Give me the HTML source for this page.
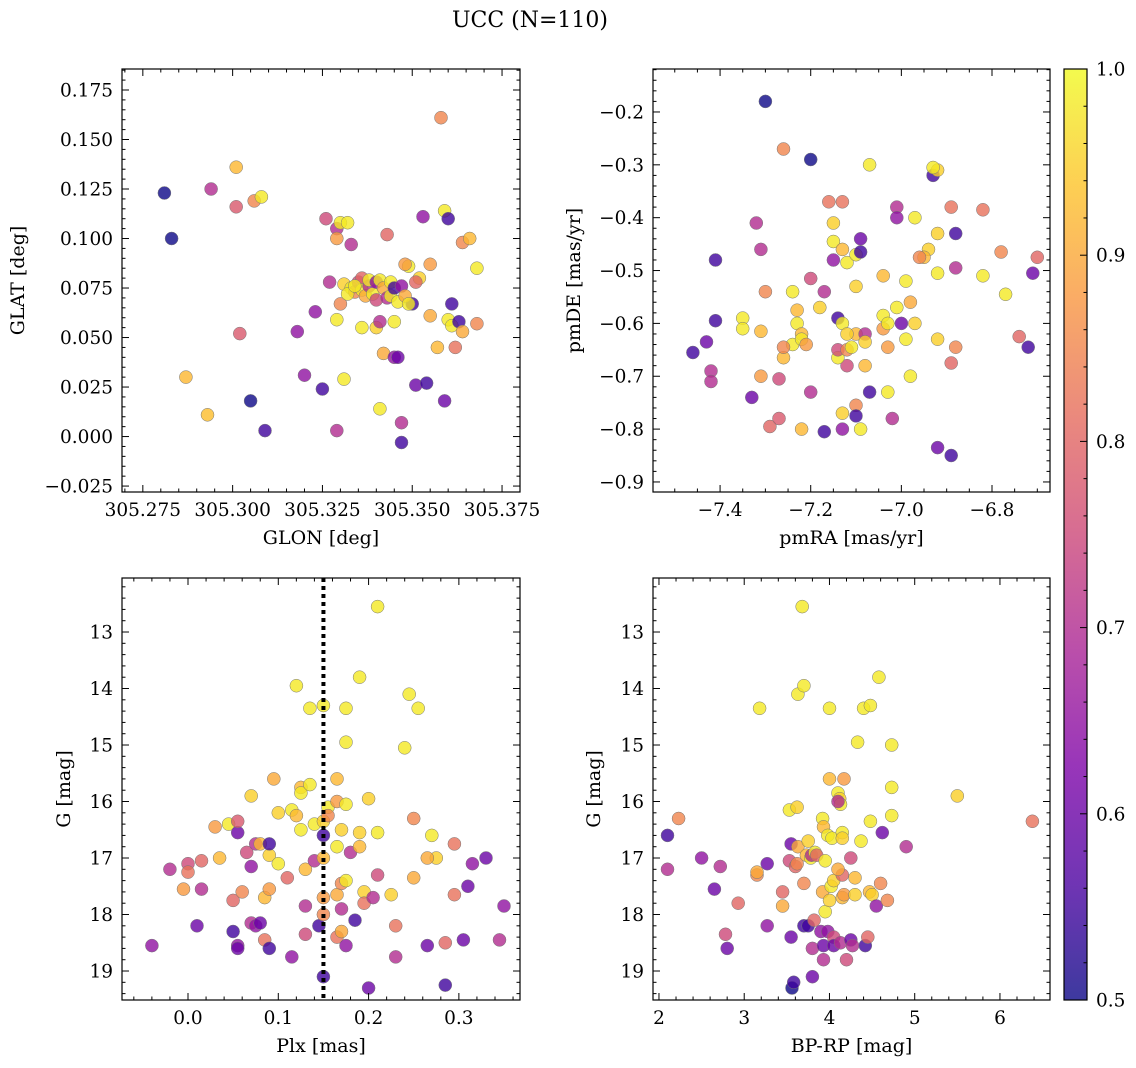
<!DOCTYPE html>
<html><head><meta charset="utf-8"><style>
body{margin:0;background:#fff;}
svg{display:block;font-family:"DejaVu Serif","Liberation Serif",serif;}
</style></head><body>
<svg id="fig" width="1136" height="1068" viewBox="0 0 1136 1068">
<defs><linearGradient id="cbg" x1="0" y1="1" x2="0" y2="0">
<stop offset="0" stop-color="#0d0887"/><stop offset="0.125" stop-color="#4c02a1"/><stop offset="0.25" stop-color="#7e03a8"/><stop offset="0.375" stop-color="#a92395"/><stop offset="0.5" stop-color="#cc4778"/><stop offset="0.625" stop-color="#e56b5d"/><stop offset="0.75" stop-color="#f89540"/><stop offset="0.875" stop-color="#fdc328"/><stop offset="1" stop-color="#f0f921"/></linearGradient></defs>
<text x="530" y="27" text-anchor="middle" font-size="22">UCC (N=110)</text>
</svg>
<script>
// Panel 1: GLON / GLAT
const glon1=[305.281,305.283,305.294,305.301,305.301,305.306,305.308,305.302,305.287,305.293,305.305,305.309,305.318,305.320,305.323,305.325,305.326,305.329,305.329,305.330,305.332,305.333,305.327,305.329,305.330,305.331,305.329,305.336,305.340,305.341,305.342,305.341,305.343,305.345,305.346,305.345,305.347,305.347,305.349,305.348,305.350,305.351,305.352,305.353,305.354,305.355,305.355,305.357,305.358,305.359,305.359,305.360,305.360,305.361,305.361,305.362,305.363,305.364,305.364,305.366,305.368,305.368,305.331,305.333,305.334,305.335,305.336,305.336,305.337,305.338,305.338,305.339,305.340,305.340,305.341,305.342,305.343,305.344,305.344,305.345,305.346,305.347,305.348,305.349,305.351,305.332,305.334];
const glat1=[0.123,0.100,0.125,0.136,0.116,0.119,0.121,0.052,0.030,0.011,0.018,0.003,0.053,0.031,0.063,0.024,0.110,0.105,0.100,0.108,0.108,0.097,0.078,0.059,0.067,0.029,0.003,0.055,0.055,0.058,0.042,0.014,0.102,0.040,0.040,0.058,0.007,-0.003,0.086,0.087,0.067,0.026,0.080,0.111,0.027,0.087,0.061,0.045,0.161,0.018,0.114,0.110,0.059,0.056,0.067,0.045,0.058,0.098,0.053,0.100,0.085,0.057,0.077,0.075,0.073,0.078,0.080,0.074,0.071,0.076,0.079,0.072,0.069,0.078,0.079,0.075,0.070,0.078,0.071,0.075,0.068,0.076,0.071,0.067,0.078,0.072,0.076];
const prob1=[0.5,0.5,0.7,0.92,0.78,0.85,0.98,0.78,0.92,0.93,0.5,0.55,0.65,0.65,0.65,0.55,0.75,0.7,0.88,0.98,0.98,0.7,0.7,0.98,0.85,0.98,0.7,0.98,0.95,0.7,0.9,0.98,0.8,0.65,0.6,0.98,0.7,0.55,0.98,0.88,0.55,0.6,0.95,0.65,0.55,0.88,0.9,0.92,0.85,0.6,0.98,0.55,0.98,0.98,0.55,0.82,0.55,0.85,0.9,0.92,0.98,0.85,0.95,0.98,0.85,0.75,0.8,0.98,0.9,0.7,0.98,0.98,0.75,0.65,0.98,0.9,0.7,0.98,0.98,0.55,0.98,0.65,0.9,0.98,0.8,0.98,0.98];
// Panel 2: pmRA / pmDE
const pmra2=[-7.30,-7.26,-7.20,-7.07,-6.93,-6.92,-6.93,-7.32,-7.31,-7.41,-7.16,-7.13,-7.15,-7.15,-7.13,-7.12,-7.15,-7.10,-7.09,-7.09,-7.01,-7.01,-6.97,-6.92,-6.88,-6.89,-6.82,-6.94,-6.95,-6.96,-6.88,-6.92,-6.82,-6.78,-6.70,-6.71,-6.77,-6.74,-6.72,-7.17,-7.20,-7.18,-7.24,-7.30,-7.35,-7.35,-7.31,-7.23,-7.23,-7.24,-7.22,-7.22,-7.26,-7.26,-7.21,-7.27,-7.31,-7.29,-7.27,-7.33,-7.20,-7.22,-7.17,-7.13,-7.09,-7.13,-7.10,-7.10,-7.07,-7.03,-7.08,-7.12,-7.14,-7.14,-7.12,-7.11,-7.14,-7.13,-7.10,-7.08,-7.08,-7.12,-7.04,-7.04,-7.03,-7.00,-7.01,-7.04,-6.98,-6.99,-6.97,-6.99,-7.03,-6.98,-6.92,-6.89,-6.88,-7.02,-6.92,-6.89,-7.46,-7.43,-7.42,-7.42,-7.41,-7.10];
const pmde2=[-0.18,-0.27,-0.29,-0.30,-0.32,-0.31,-0.305,-0.41,-0.46,-0.48,-0.37,-0.37,-0.41,-0.445,-0.46,-0.485,-0.48,-0.47,-0.44,-0.465,-0.38,-0.40,-0.40,-0.43,-0.43,-0.38,-0.385,-0.46,-0.475,-0.475,-0.495,-0.505,-0.51,-0.465,-0.475,-0.505,-0.545,-0.625,-0.645,-0.54,-0.515,-0.57,-0.54,-0.54,-0.59,-0.61,-0.615,-0.575,-0.60,-0.64,-0.62,-0.63,-0.665,-0.645,-0.64,-0.705,-0.70,-0.795,-0.78,-0.74,-0.73,-0.80,-0.805,-0.80,-0.80,-0.77,-0.755,-0.775,-0.73,-0.73,-0.68,-0.68,-0.665,-0.65,-0.65,-0.645,-0.59,-0.60,-0.62,-0.62,-0.635,-0.62,-0.61,-0.585,-0.60,-0.60,-0.57,-0.51,-0.56,-0.52,-0.60,-0.63,-0.645,-0.70,-0.63,-0.675,-0.645,-0.78,-0.835,-0.85,-0.655,-0.635,-0.69,-0.71,-0.595,-0.53];
const prob2=[0.5,0.85,0.5,0.98,0.55,0.95,0.98,0.7,0.7,0.55,0.82,0.82,0.95,0.98,0.92,0.98,0.65,0.98,0.6,0.55,0.7,0.65,0.98,0.95,0.55,0.82,0.82,0.95,0.92,0.85,0.7,0.98,0.98,0.85,0.8,0.6,0.98,0.8,0.55,0.7,0.75,0.95,0.98,0.85,0.98,0.98,0.92,0.92,0.98,0.98,0.92,0.98,0.92,0.85,0.88,0.75,0.88,0.8,0.78,0.6,0.7,0.92,0.55,0.65,0.98,0.95,0.85,0.55,0.55,0.98,0.92,0.75,0.98,0.75,0.85,0.98,0.55,0.98,0.92,0.7,0.95,0.95,0.88,0.98,0.98,0.6,0.98,0.92,0.9,0.98,0.95,0.98,0.88,0.98,0.95,0.8,0.85,0.7,0.6,0.55,0.55,0.6,0.7,0.7,0.55,0.95];
// Panel 3: Plx / G
const plx3=[-0.04,-0.02,0.00,0.00,-0.005,0.015,0.015,0.01,0.03,0.035,0.045,0.05,0.05,0.055,0.055,0.055,0.055,0.06,0.065,0.07,0.07,0.075,0.08,0.075,0.07,0.08,0.085,0.085,0.09,0.09,0.09,0.09,0.095,0.10,0.10,0.11,0.115,0.115,0.12,0.12,0.125,0.125,0.125,0.13,0.13,0.13,0.135,0.135,0.14,0.14,0.145,0.15,0.15,0.15,0.155,0.155,0.15,0.15,0.15,0.15,0.165,0.165,0.165,0.165,0.165,0.17,0.17,0.17,0.17,0.175,0.175,0.175,0.175,0.175,0.18,0.185,0.19,0.19,0.19,0.195,0.195,0.20,0.20,0.205,0.21,0.21,0.21,0.225,0.23,0.23,0.24,0.245,0.25,0.25,0.255,0.265,0.27,0.275,0.285,0.285,0.295,0.295,0.305,0.31,0.315,0.33,0.345,0.35,0.265];
const g3=[18.55,17.2,17.1,17.25,17.55,17.05,17.55,18.2,16.45,17.0,16.4,18.3,17.75,18.55,18.6,16.55,16.35,17.6,16.9,15.9,18.15,18.2,18.15,16.75,17.15,16.75,18.45,17.7,16.95,16.75,17.55,18.6,15.6,16.2,17.1,17.35,16.15,18.75,13.95,16.25,16.5,15.75,15.85,17.2,17.85,18.35,14.35,15.7,16.4,17.05,18.2,16.35,17.0,17.7,16.1,16.25,16.6,18.0,19.1,14.3,15.6,16.0,16.8,17.65,18.4,16.5,17.45,17.9,18.3,16.05,14.35,14.95,17.4,18.55,16.9,18.1,13.8,16.55,16.8,17.6,17.8,15.95,19.3,17.7,12.55,16.55,17.3,17.65,18.2,18.75,15.05,14.1,16.3,17.35,14.35,18.55,16.6,17.0,18.5,19.25,16.75,17.65,18.45,17.5,17.1,17.0,18.45,17.85,17.0];
const prob3=[0.65,0.7,0.75,0.82,0.88,0.8,0.7,0.6,0.88,0.92,0.98,0.55,0.8,0.65,0.6,0.6,0.78,0.85,0.75,0.95,0.7,0.65,0.6,0.7,0.65,0.92,0.82,0.92,0.95,0.55,0.88,0.55,0.9,0.95,0.98,0.8,0.98,0.65,0.98,0.92,0.98,0.92,0.98,0.92,0.7,0.75,0.98,0.98,0.98,0.7,0.55,0.95,0.92,0.88,0.98,0.85,0.55,0.85,0.55,0.98,0.92,0.88,0.98,0.9,0.82,0.95,0.85,0.7,0.9,0.98,0.98,0.98,0.98,0.65,0.7,0.55,0.98,0.95,0.92,0.95,0.82,0.95,0.6,0.7,0.98,0.98,0.75,0.95,0.82,0.7,0.98,0.98,0.85,0.9,0.98,0.6,0.98,0.95,0.8,0.55,0.82,0.82,0.6,0.6,0.65,0.6,0.7,0.65,0.9];
const plxRef=[0.15];
// Panel 4: BP-RP / G
const bprp4=[2.10,2.10,2.23,2.50,2.65,2.72,2.78,2.80,2.93,3.15,3.15,3.18,3.27,3.27,3.45,3.45,3.53,3.53,3.55,3.55,3.56,3.58,3.60,3.62,3.62,3.63,3.63,3.68,3.70,3.70,3.70,3.73,3.75,3.75,3.78,3.79,3.80,3.80,3.82,3.83,3.85,3.90,3.92,3.92,3.93,3.93,3.93,3.95,3.98,3.98,4.00,4.00,4.00,4.02,4.03,4.05,4.05,4.05,4.10,4.12,4.13,4.13,4.15,4.15,4.15,4.15,4.17,4.17,4.20,4.25,4.27,4.30,4.30,4.33,4.37,4.40,4.42,4.45,4.47,4.48,4.48,4.50,4.55,4.58,4.60,4.62,4.68,4.73,4.73,4.73,4.90,5.50,6.38,4.10,4.10,3.95,4.25];
const g4=[16.6,17.2,16.3,17.0,17.55,17.15,18.35,18.6,17.8,17.3,17.25,14.35,17.1,18.2,17.6,17.85,17.05,16.15,16.75,18.4,19.3,19.2,17.15,16.1,17.1,16.8,14.1,12.55,13.95,17.45,18.2,16.95,16.7,18.2,17.0,16.95,18.6,19.1,18.1,16.9,16.95,18.3,16.3,17.6,16.45,18.55,18.8,17.95,16.6,18.3,14.35,15.6,17.75,17.5,16.65,18.4,18.55,17.4,15.85,15.95,16.05,18.5,16.55,16.65,17.3,17.7,15.6,17.65,18.8,18.45,18.55,17.35,17.65,14.95,16.7,14.35,18.55,18.4,17.6,14.3,16.35,17.65,17.85,13.8,17.45,16.55,17.75,15.0,15.75,16.25,16.8,15.9,16.35,16.0,17.2,17.05,17.0];
const prob4=[0.55,0.7,0.85,0.65,0.6,0.7,0.75,0.6,0.8,0.85,0.9,0.98,0.6,0.65,0.8,0.9,0.75,0.98,0.6,0.6,0.5,0.55,0.8,0.95,0.85,0.9,0.98,0.98,0.98,0.85,0.55,0.92,0.95,0.55,0.98,0.7,0.7,0.6,0.8,0.98,0.8,0.65,0.98,0.9,0.92,0.6,0.7,0.98,0.98,0.65,0.98,0.92,0.95,0.98,0.98,0.75,0.6,0.95,0.98,0.95,0.98,0.7,0.98,0.95,0.8,0.92,0.88,0.88,0.75,0.6,0.7,0.92,0.95,0.98,0.98,0.98,0.55,0.8,0.92,0.98,0.98,0.95,0.65,0.98,0.85,0.6,0.85,0.98,0.98,0.98,0.7,0.95,0.82,0.7,0.9,0.98,0.75];
const cbTicks=[0.5,0.6,0.7,0.8,0.9,1.0];

const NS='http://www.w3.org/2000/svg';
const svg=document.getElementById('fig');
function mk(tag,attrs,parent){const e=document.createElementNS(NS,tag);for(const k in attrs)e.setAttribute(k,attrs[k]);(parent||svg).appendChild(e);return e;}
const stops=[[13,8,135],[76,2,161],[126,3,168],[169,35,149],[204,71,120],[229,107,93],[248,149,64],[253,195,40],[240,249,33]];
function plasma(p){let t=Math.max(0,Math.min(1,(p-0.5)/0.5))*8;let i=Math.min(7,Math.floor(t));let f=t-i;const a=stops[i],b=stops[i+1];return 'rgb('+[0,1,2].map(k=>Math.round(a[k]+(b[k]-a[k])*f)).join(',')+')';}
function fmt(v,d){let s=v.toFixed(d);if(s.startsWith('-'))s='\u2212'+s.slice(1);return s;}
const TF=18.5, LF=19;

function panel(o){
  const {x0,x1,y0,y1,xmin,xmax,ymin,ymax,inv,name}=o;
  const sx=v=>x0+(v-xmin)/(xmax-xmin)*(x1-x0);
  const sy=inv?(v=>y0+(v-ymin)/(ymax-ymin)*(y1-y0)):(v=>y1-(v-ymin)/(ymax-ymin)*(y1-y0));
  const g=mk('g',{});
  
  
  const pts=mk('g',{},g);
  
  
  for(let i=0;i<o.xs.length;i++){
    const c=mk('circle',{cx:sx(o.xs[i]).toFixed(1),cy:sy(o.ys[i]).toFixed(1),r:6.5,fill:plasma(o.ps[i]),'fill-opacity':0.8,stroke:'#777','stroke-width':0.5},pts);
    
    
  }
  if(o.extra)o.extra(g,sx,sy);
  mk('rect',{x:x0,y:y0,width:x1-x0,height:y1-y0,fill:'none',stroke:'#000','stroke-width':1.2},g);
  const eps=1e-9;
  for(let v=Math.ceil(xmin/o.xminor-eps)*o.xminor;v<=xmax+eps;v+=o.xminor){
    const X=sx(v);const major=Math.abs(v/o.xmajor-Math.round(v/o.xmajor))<1e-6;const L=major?7:3.5;
    mk('line',{x1:X,x2:X,y1:y1,y2:y1-L,stroke:'#000','stroke-width':1},g);
    mk('line',{x1:X,x2:X,y1:y0,y2:y0+L,stroke:'#000','stroke-width':1},g);
    if(major){const t=mk('text',{x:X,y:y1+24,'text-anchor':'middle','font-size':TF},g);t.textContent=fmt(v,o.xd);
      }
  }
  for(let v=Math.ceil(ymin/o.yminor-eps)*o.yminor;v<=ymax+eps;v+=o.yminor){
    const Y=sy(v);const major=Math.abs(v/o.ymajor-Math.round(v/o.ymajor))<1e-6;const L=major?7:3.5;
    mk('line',{x1:x0,x2:x0+L,y1:Y,y2:Y,stroke:'#000','stroke-width':1},g);
    mk('line',{x1:x1,x2:x1-L,y1:Y,y2:Y,stroke:'#000','stroke-width':1},g);
    if(major){const t=mk('text',{x:x0-9,y:Y+6.5,'text-anchor':'end','font-size':TF},g);t.textContent=fmt(v,o.yd);
      }
  }
  const xl=mk('text',{x:(x0+x1)/2,y:y1+52,'text-anchor':'middle','font-size':LF},g);xl.textContent=o.xlabel;
  
  const yx=o.ylx, yy=(y0+y1)/2;
  const yl=mk('text',{x:yx,y:yy,'text-anchor':'middle','font-size':LF,transform:'rotate(-90 '+yx+' '+yy+')'},g);yl.textContent=o.ylabel;
  
}
panel({name:'glon-glat',x0:122,x1:520,y0:69,y1:492,xmin:305.2692,xmax:305.380,ymin:-0.028,ymax:0.1856,xmajor:0.025,xminor:0.005,ymajor:0.025,yminor:0.005,xd:3,yd:3,xs:glon1,ys:glat1,ps:prob1,xlabel:'GLON [deg]',ylabel:'GLAT [deg]',ylx:24});
panel({name:'pm',x0:653,x1:1050,y0:69,y1:492,xmin:-7.548,xmax:-6.672,ymin:-0.919,ymax:-0.1187,xmajor:0.2,xminor:0.05,ymajor:0.1,yminor:0.02,xd:1,yd:1,xs:pmra2,ys:pmde2,ps:prob2,xlabel:'pmRA [mas/yr]',ylabel:'pmDE [mas/yr]',ylx:580});
panel({name:'plx-g',x0:122,x1:520,y0:578,y1:1000,xmin:-0.0731,xmax:0.3677,ymin:12.044,ymax:19.513,inv:true,xmajor:0.1,xminor:0.02,ymajor:1,yminor:0.2,xd:1,yd:0,xs:plx3,ys:g3,ps:prob3,xlabel:'Plx [mas]',ylabel:'G [mag]',ylx:70,
 extra:(g,sx,sy)=>{const l=mk('line',{x1:sx(plxRef[0]),x2:sx(plxRef[0]),y1:578,y2:1000,stroke:'#000','stroke-width':4,'stroke-dasharray':'4 4'},g);}});
panel({name:'cmd',x0:653,x1:1050,y0:578,y1:1000,xmin:1.930,xmax:6.587,ymin:12.044,ymax:19.513,inv:true,xmajor:1,xminor:0.2,ymajor:1,yminor:0.2,xd:0,yd:0,xs:bprp4,ys:g4,ps:prob4,xlabel:'BP-RP [mag]',ylabel:'G [mag]',ylx:600});
const cb=mk('g',{});


mk('rect',{x:1064,y:69,width:23,height:931,fill:'url(#cbg)','fill-opacity':0.8},cb);
mk('rect',{x:1064,y:69,width:23,height:931,fill:'none',stroke:'#000','stroke-width':1.2},cb);
const cby=v=>1000-(v-0.5)/0.5*931;
for(let k=0;k<=25;k++){const v=0.5+k*0.02;const Y=cby(v);const major=k%5===0;
  mk('line',{x1:1087,x2:1087-(major?7:3.5),y1:Y,y2:Y,stroke:'#000','stroke-width':1},cb);}
cbTicks.forEach(v=>{const t=mk('text',{x:1096,y:cby(v)+6.5,'font-size':TF},cb);t.textContent=v.toFixed(1);
  });
</script>
</body></html>
